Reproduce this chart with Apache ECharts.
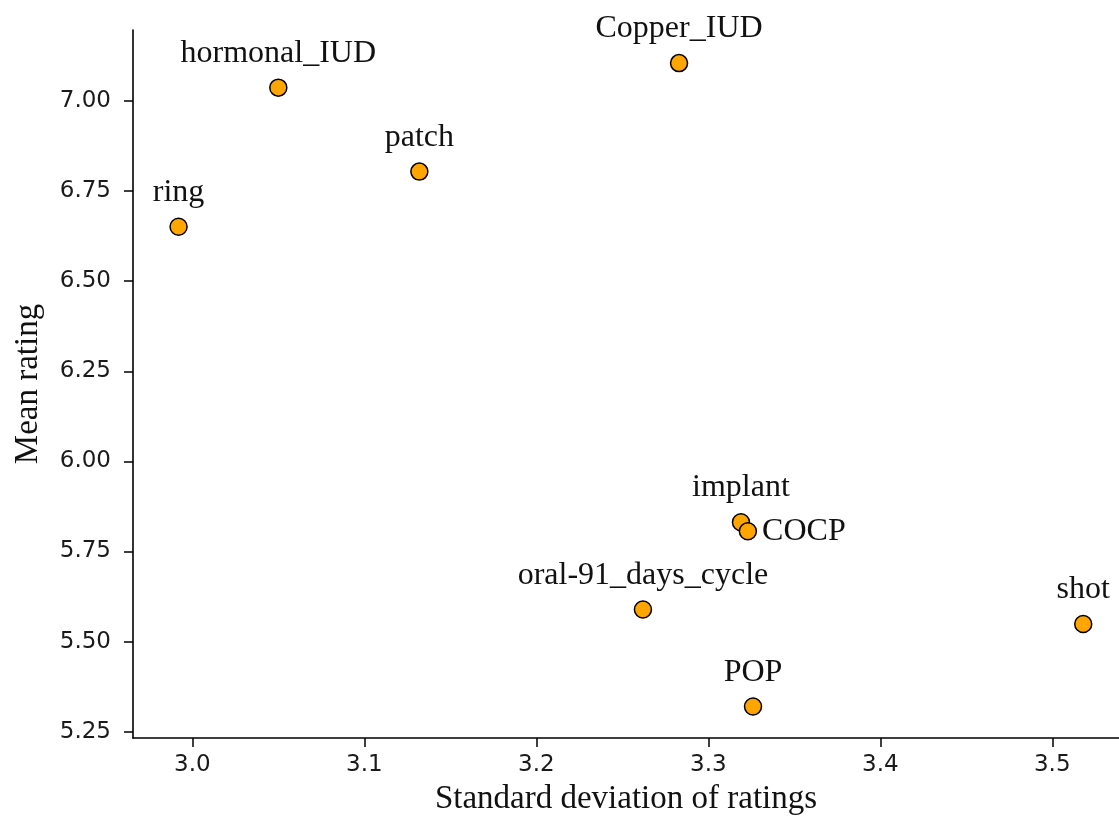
<!DOCTYPE html>
<html>
<head>
<meta charset="utf-8">
<script src="https://cdn.jsdelivr.net/npm/echarts@6/dist/echarts.min.js"></script>
<style>
  html, body { margin: 0; padding: 0; background: #fff; }
  #chart { width: 1119px; height: 819px; }
</style>
</head>
<body>
<div id="chart"></div>
<script>
// contraceptive methods: spread vs mean of ratings
const methods = ['ring', 'hormonal_IUD', 'patch', 'Copper_IUD', 'implant', 'COCP', 'oral-91_days_cycle', 'shot', 'POP']
const sdRatings = [2.992, 3.050, 3.132, 3.283, 3.319, 3.323, 3.262, 3.518, 3.326]
const meanRatings = [6.651, 7.037, 6.804, 7.105, 5.831, 5.806, 5.589, 5.549, 5.320]
const xTicks = [3.0, 3.1, 3.2, 3.3, 3.4, 3.5]
const yTicks = [5.25, 5.50, 5.75, 6.00, 6.25, 6.50, 6.75, 7.00]

// labels that sit beside the dot instead of above it
const sideLabels = ['COCP']

const serif = '"Liberation Serif", "Times New Roman", serif'
const sans = '"DejaVu Sans", sans-serif'

const points = methods.map((name, i) => {
  const item = {name: name, value: [sdRatings[i], meanRatings[i]]}
  if (sideLabels.includes(name)) {
    item.label = {position: 'right', distance: 5}
  }
  return item
})

const axisCommon = {
  type: 'value',
  nameLocation: 'middle',
  nameMoveOverlap: false,
  nameTextStyle: {fontFamily: serif, fontSize: 33, color: '#111'},
  splitLine: {show: false},
  axisLine: {show: true, onZero: false, lineStyle: {color: '#000', width: 1.6}},
  axisTick: {show: true, length: 9, lineStyle: {color: '#000', width: 1.5}},
}

const chart = echarts.init(document.getElementById('chart'))
chart.setOption({
  animation: false,
  grid: {left: 133, right: 0, top: 30, bottom: 81, outerBoundsMode: 'none'},
  xAxis: Object.assign({}, axisCommon, {
    name: 'Standard deviation of ratings',
    nameGap: 45,
    min: 2.9655,
    max: 3.5388,
    axisTick: Object.assign({}, axisCommon.axisTick, {customValues: xTicks}),
    axisLabel: {
      customValues: xTicks,
      margin: 16,
      fontFamily: sans,
      fontSize: 23,
      color: '#1a1a1a',
      formatter: v => v.toFixed(1)
    }
  }),
  yAxis: Object.assign({}, axisCommon, {
    name: 'Mean rating',
    nameGap: 88,
    min: 5.2325,
    max: 7.1969,
    axisTick: Object.assign({}, axisCommon.axisTick, {customValues: yTicks}),
    axisLabel: {
      customValues: yTicks,
      margin: 22,
      fontFamily: sans,
      fontSize: 23,
      color: '#1a1a1a',
      formatter: v => v.toFixed(2)
    }
  }),
  series: [{
    type: 'scatter',
    data: points,
    symbolSize: 17,
    itemStyle: {color: '#ffa500', borderColor: '#000', borderWidth: 1.5, opacity: 1},
    label: {
      show: true,
      position: 'top',
      distance: 9,
      formatter: p => p.name,
      fontFamily: serif,
      fontSize: 32,
      color: '#111'
    }
  }]
})
</script>
</body>
</html>
